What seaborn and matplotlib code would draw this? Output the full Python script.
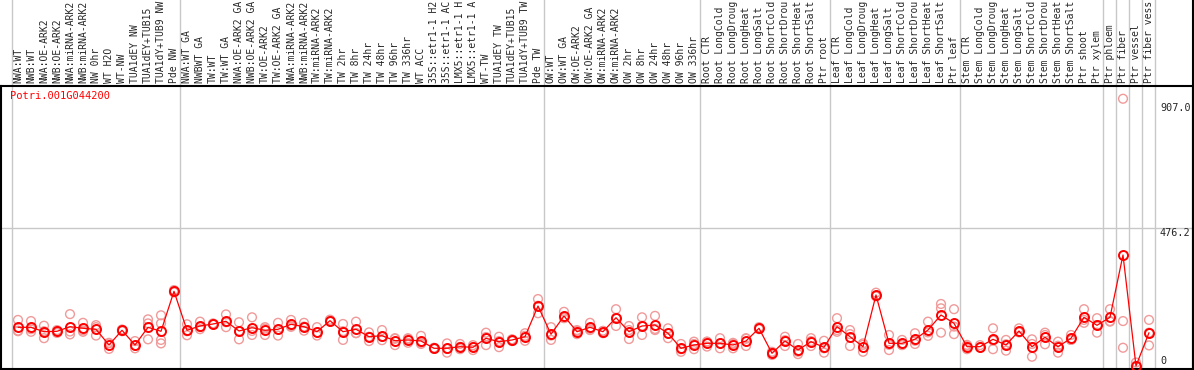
import numpy as np
import pandas as pd
import matplotlib
matplotlib.use("Agg")
import matplotlib.pyplot as plt
import matplotlib.transforms as mtransforms
from matplotlib.lines import Line2D
import seaborn as sns

gene = "Potri.001G044200"

# sample names as they show in the header (long ones cut like in the original)
samples = [
    "NWA:WT", "NWB:WT", "NWA:OE-ARK2", "NWB:OE-ARK2", "NWA:miRNA-ARK2", "NWB:miRNA-ARK2",
    "NW 0hr", "WT H2O", "WT-NW", "TUA1dEY NW", "TUA1dEY+TUB15", "TUA1dY+TUB9 NW", "Pde NW",
    "NWA:WT GA", "NWBWT GA", "TW:WT", "TW:WT GA", "NWA:OE-ARK2 GA", "NWB:OE-ARK2 GA",
    "TW:OE-ARK2", "TW:OE-ARK2 GA", "NWA:miRNA-ARK2", "NWB:miRNA-ARK2", "TW:miRNA-ARK2",
    "TW:miRNA-ARK2", "TW 2hr", "TW 8hr", "TW 24hr", "TW 48hr", "TW 96hr", "TW 336hr",
    "WT ACC", "35S::etr1-1 H2", "35S::etr1-1 AC", "LMX5::etr1-1 H", "LMX5::etr1-1 A",
    "WT-TW", "TUA1dEY TW", "TUA1dEY+TUB15", "TUA1dY+TUB9 TW", "Pde TW",
    "OW:WT", "OW:WT GA", "OW:OE-ARK2", "OW:OE-ARK2 GA", "OW:miRNA-ARK2", "OW:miRNA-ARK2",
    "OW 2hr", "OW 8hr", "OW 24hr", "OW 48hr", "OW 96hr", "OW 336hr",
    "Root CTR", "Root LongCold", "Root LongDroug", "Root LongHeat", "Root LongSalt",
    "Root ShortCold", "Root ShortDrou", "Root ShortHeat", "Root ShortSalt", "Ptr root",
    "Leaf CTR", "Leaf LongCold", "Leaf LongDroug", "Leaf LongHeat", "Leaf LongSalt",
    "Leaf ShortCold", "Leaf ShortDrou", "Leaf ShortHeat", "Leaf ShortSalt", "Ptr leaf",
    "Stem CTR", "Stem LongCold", "Stem LongDroug", "Stem LongHeat", "Stem LongSalt",
    "Stem ShortCold", "Stem ShortDrou", "Stem ShortHeat", "Stem ShortSalt", "Ptr shoot",
    "Ptr xylem", "Ptr phloem", "Ptr fiber", "Ptr vessel", "Ptr fiber vess",
]

means = [
    133.5, 133.5, 118.3, 119.7, 135.6, 130.1, 126.6, 72.5, 123.2, 72.5, 133.5, 119.7, 257.7,
    123.2, 138.0, 144.9, 154.2, 120.8, 132.1, 123.2, 126.6, 143.9, 135.6, 118.3, 156.3,
    118.3, 126.6, 101.1, 104.5, 87.3, 89.7, 86.3, 61.1, 61.1, 66.6, 64.5, 95.6, 83.8,
    89.7, 101.1, 207.0,
    109.4, 172.5, 118.3, 133.5, 118.3, 166.6, 118.3, 138.0, 141.5, 112.8, 61.1, 72.5,
    78.3, 78.3, 72.5, 86.3, 130.1, 43.8, 86.3, 55.2, 83.8, 64.5, 135.6, 101.1,
    66.6, 245.0, 78.3, 78.3, 92.1, 124.2, 176.0, 147.3,
    66.6, 66.6, 92.1, 72.5, 120.8, 66.6, 99.0, 66.6, 95.6, 168.0, 140.4,
    168.0, 383.0, 0.0, 114.9,
]

reps = [
    [159, 122, 120], [155, 118, 127], [139, 96, 120], [121, 114, 124], [179, 109, 119],
    [149, 118, 123], [134, 105, 141], [59, 78, 80], [124, 120, 126], [86, 61, 70],
    [161, 92, 147], [175, 147, 90, 78], [258, 262, 254],
    [144, 106, 120], [153, 127, 134], [147, 143, 145], [178, 134, 151], [151, 92, 120],
    [168, 107, 121], [134, 107, 129], [149, 105, 126], [159, 138, 135], [149, 122, 136],
    [134, 105, 116], [160, 153, 156], [145, 90, 120], [153, 113, 114], [116, 86, 101],
    [124, 101, 89], [96, 72, 94], [96, 80, 93], [104, 76, 80], [61, 63, 59], [78, 46, 59],
    [76, 58, 66], [72, 55, 66], [115, 72, 100], [101, 65, 86], [92, 86, 91],
    [113, 87, 104], [231, 182, 208],
    [134, 105, 90], [187, 165, 166], [124, 110, 121], [149, 128, 124], [113, 121, 121],
    [196, 138, 166], [138, 93, 124], [168, 107, 139], [173, 124, 128], [130, 96, 112],
    [76, 49, 58], [84, 58, 76],
    [84, 67, 84], [96, 61, 78], [80, 61, 76], [96, 69, 94], [130, 134, 127], [49, 38, 45],
    [101, 69, 89], [76, 41, 49], [96, 69, 86], [87, 46, 61],
    [165, 118, 124], [124, 69, 110], [78, 49, 73], [253, 240, 242], [107, 55, 73],
    [90, 72, 73], [113, 76, 87], [153, 104, 116], [214, 115, 199], [196, 110, 136],
    [58, 69, 73], [72, 64, 64], [130, 58, 88], [90, 53, 75], [130, 116, 117], [92, 32, 76],
    [115, 75, 107], [84, 46, 70], [107, 90, 90], [196, 149, 159], [165, 115, 141],
    [196, 155, 153], [922, 155, 63], [12, 0, 0], [159, 71, 115],
]

group_edges = [-0.5, 12.5, 40.5, 52.5, 62.5, 72.5, 83.5, 84.5, 85.5, 86.5, 87.5]
tick_values = [907.0, 476.2, 0]

pos = np.arange(len(samples))
df_mean = pd.DataFrame({"pos": pos, "value": means})
df_rep = pd.DataFrame(
    [(i, v) for i, vals in enumerate(reps) for v in vals], columns=["pos", "value"]
)

sns.set_style("white")
mono = "DejaVu Sans Mono"

fig = plt.figure(figsize=(11.94, 3.70), dpi=100)
ax = fig.add_axes([1 / 1194, 1 / 370, 1192 / 1194, 283 / 370])
ax.set_xlim(-1.3077, 90.385)
ax.set_ylim(-10.35, 966)

for b in group_edges:
    ax.axvline(b, ymin=0, ymax=1.31, color="#c8c8c8", lw=1.0, clip_on=False, zorder=0)
ax.axhline(476.2, color="#c8c8c8", lw=1.0, zorder=0)

sns.scatterplot(data=df_rep, x="pos", y="value", ax=ax, marker="o", s=40,
                facecolors="none", edgecolor="#f09a9a", linewidth=1.0, zorder=2)
sns.lineplot(data=df_mean, x="pos", y="value", ax=ax, sort=False, color="#ff0000",
             lw=0.9, marker="o", markersize=6.5, markerfacecolor="none",
             markeredgecolor="#ff0000", markeredgewidth=1.4, zorder=3)

trans = mtransforms.blended_transform_factory(ax.transData, ax.transAxes)
for i, name in enumerate(samples):
    ax.text(i, 1.009, name, transform=trans, rotation=90, ha="center", va="bottom",
            fontsize=7.0, family=mono, clip_on=False)

ytrans = mtransforms.blended_transform_factory(ax.transAxes, ax.transData)
for v in tick_values:
    label = "0" if v == 0 else f"{v:.1f}"
    ax.text(1159 / 1192, v, label, transform=ytrans, ha="left",
            va="bottom" if v == 0 else "top", fontsize=7.3, family=mono)

ax.text(9 / 1192, 1 - 5 / 283, gene, transform=ax.transAxes, ha="left", va="top",
        fontsize=7.5, family=mono, color="#ff0000")

ax.set_xticks([])
ax.set_yticks([])
ax.set_xlabel("")
ax.set_ylabel("")
for s in ax.spines.values():
    s.set_color("black")
    s.set_linewidth(1.5)
fig.add_artist(Line2D([1193 / 1194, 1193 / 1194], [0, 1], color="black", lw=1.5,
                      transform=fig.transFigure))

fig.savefig("out.png", dpi=100)
